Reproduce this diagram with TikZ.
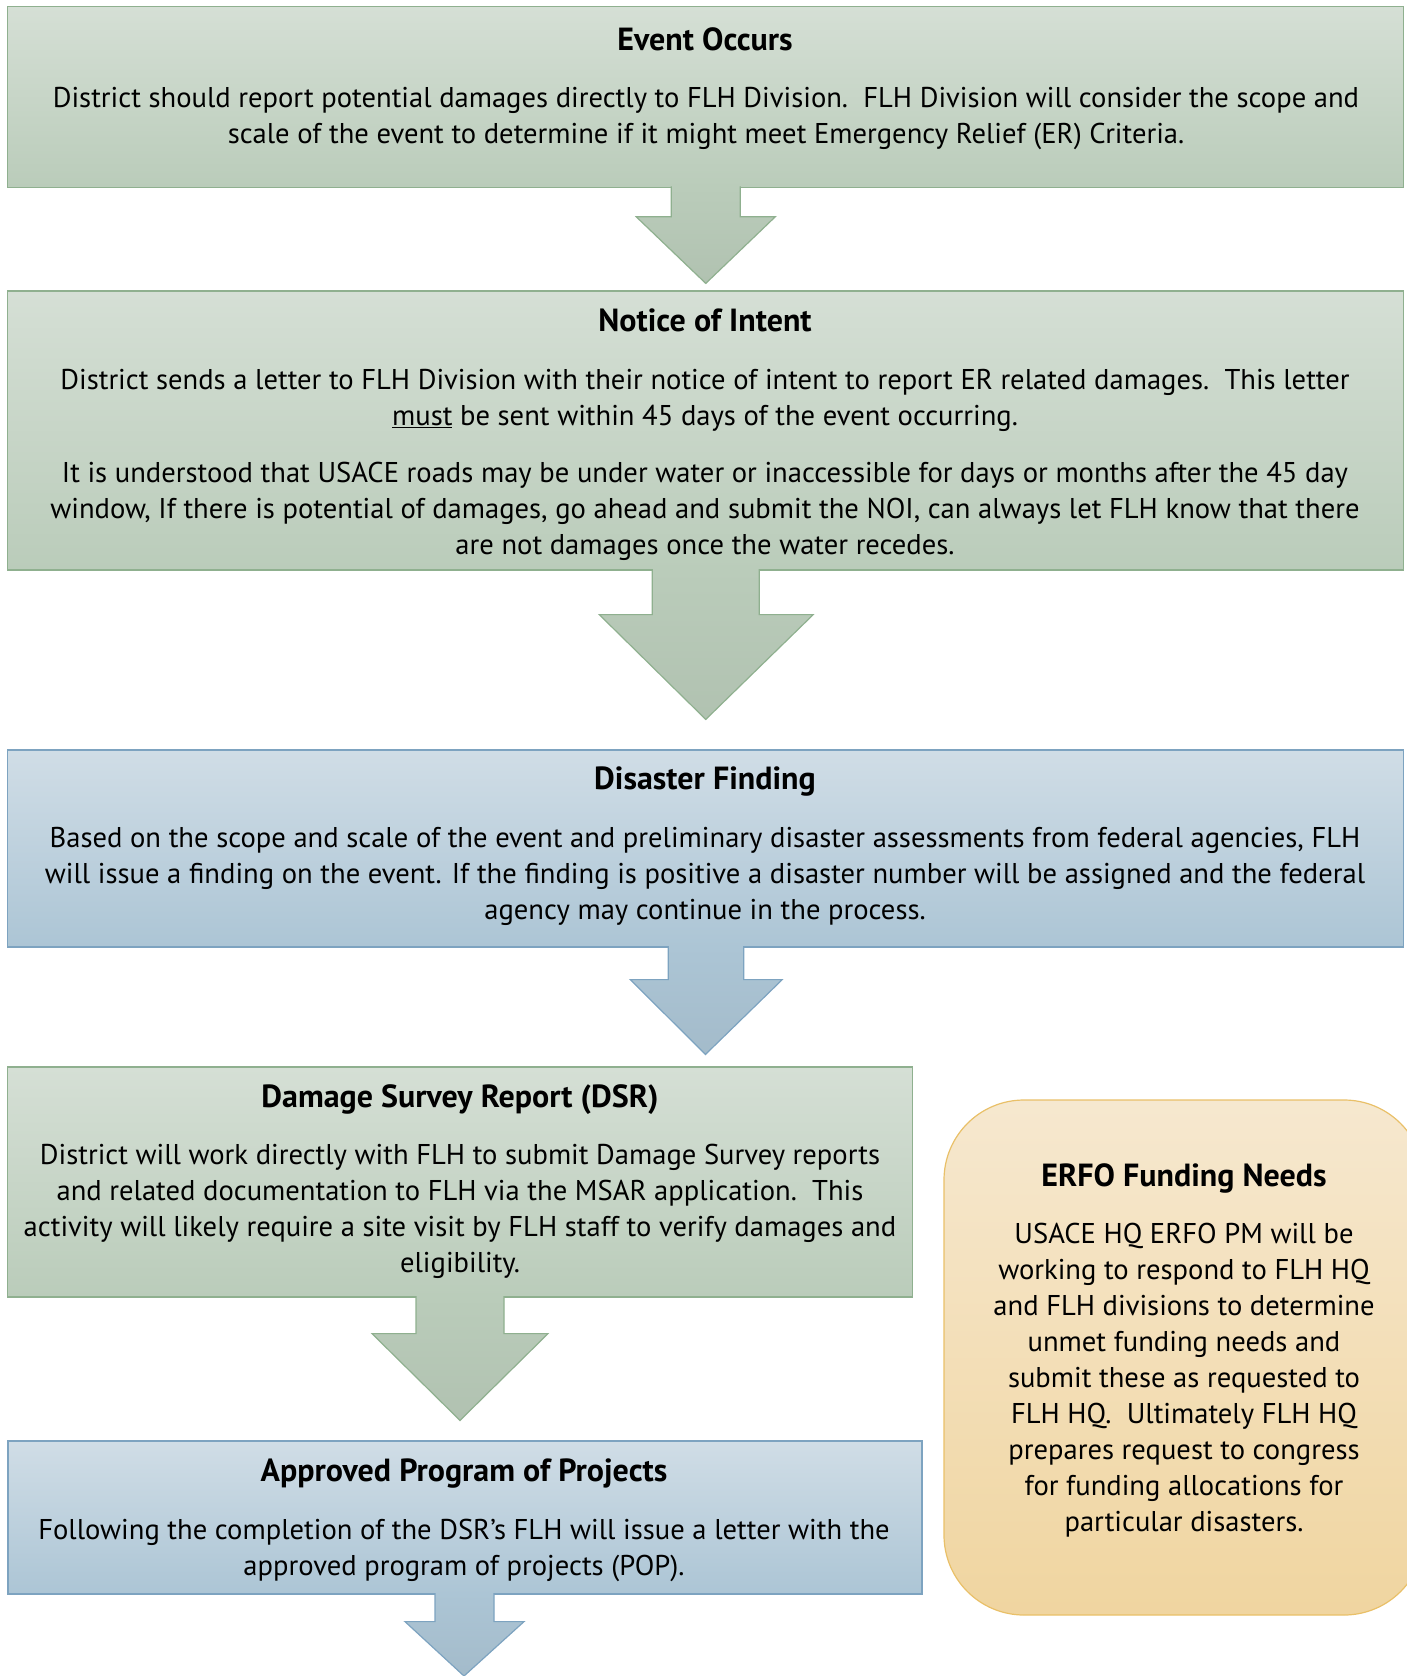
\documentclass[tikz,border=0pt]{standalone}
\usepackage{fontspec}
\setmainfont{PT Sans}
\usetikzlibrary{calc}
\definecolor{gtop}{RGB}{213,223,213}
\definecolor{gbot}{RGB}{186,204,186}
\definecolor{gline}{RGB}{143,176,143}
\definecolor{btop}{RGB}{208,221,230}
\definecolor{bbot}{RGB}{172,197,213}
\definecolor{bline}{RGB}{125,163,192}
\definecolor{otop}{RGB}{246,232,207}
\definecolor{obot}{RGB}{240,213,160}
\definecolor{oline}{RGB}{233,192,104}
\tikzset{
  gbox/.style={draw=gline, line width=1.2pt, top color=gtop, bottom color=gbot, inner sep=0pt},
  bbox/.style={draw=bline, line width=1.2pt, top color=btop, bottom color=bbot, inner sep=0pt},
  obox/.style={draw=oline, line width=1.2pt, top color=otop, bottom color=obot, rounded corners=80pt, inner sep=0pt},
  garrow/.style={draw=gline, line width=1.2pt, top color=gbot, bottom color=gbot!95!black},
  barrow/.style={draw=bline, line width=1.2pt, top color=bbot, bottom color=bbot!95!black},
  ttl/.style={font=\fontsize{32}{38}\selectfont\bfseries, inner sep=0pt},
  txt/.style={font=\fontsize{28.6}{36}\selectfont, align=center, inner sep=0pt}
}
\begin{document}
\begin{tikzpicture}[x=1pt, y=-1pt]
\useasboundingbox (0,0) rectangle (1406,1676);

% boxes
\node[gbox, minimum width=1396pt, minimum height=181pt] (event) at (705.75,96.7) {};
\node[gbox, minimum width=1396pt, minimum height=279pt] (notice) at (705.75,430.5) {};
\node[bbox, minimum width=1396pt, minimum height=197pt] (disaster) at (705.75,848.5) {};
\node[gbox, minimum width=905pt, minimum height=230pt] (damage) at (460,1182) {};
\node[bbox, minimum width=914pt, minimum height=153pt] (program) at (465,1517.5) {};
\node[obox, minimum width=480pt, minimum height=515pt] (erfo) at (1184,1357.5) {};

% texts
\node[ttl] (eventT) at (705,39) {Event Occurs};
\node[txt] (eventB) at (706,118.5) {District should report potential damages directly to FLH Division.\ \ FLH Division will consider the scope and\\
scale of the event to determine if it might meet Emergency Relief (ER) Criteria.};

\node[ttl] (noticeT) at (705,320) {Notice of Intent};
\node[txt] (noticeB1) at (705,400) {District sends a letter to FLH Division with their notice of intent to report ER related damages.\ \ This letter\\
\underline{must} be sent within 45 days of the event occurring.};
\node[txt] (noticeB2) at (705,511.5) {It is understood that USACE roads may be under water or inaccessible for days or months after the 45 day\\
window, If there is potential of damages, go ahead and submit the NOI, can always let FLH know that there\\
are not damages once the water recedes.};

\node[ttl] (disasterT) at (705,782) {Disaster Finding};
\node[txt] (disasterB) at (705,876) {Based on the scope and scale of the event and preliminary disaster assessments from federal agencies, FLH\\
will issue a finding on the event. If the finding is positive a disaster number will be assigned and the federal\\
agency may continue in the process.};

\node[ttl] (damageT) at (460,1100) {Damage Survey Report (DSR)};
\node[txt] (damageB) at (460,1211) {District will work directly with FLH to submit Damage Survey reports\\
and related documentation to FLH via the MSAR application.\ \ This\\
activity will likely require a site visit by FLH staff to verify damages and\\
eligibility.};

\node[ttl] (programT) at (464,1473.5) {Approved Program of Projects};
\node[txt] (programB) at (464,1550) {Following the completion of the DSR’s FLH will issue a letter with the\\
approved program of projects (POP).};

\node[ttl] (erfoT) at (1184,1178) {ERFO Funding Needs};
\node[txt] (erfoB) at (1184,1380) {USACE HQ ERFO PM will be\\
working to respond to FLH HQ\\
and FLH divisions to determine\\
unmet funding needs and\\
submit these as requested to\\
FLH HQ.\ \ Ultimately FLH HQ\\
prepares request to congress\\
for funding allocations for\\
particular disasters.};

% block arrows
\draw[garrow] ($(event.south)+(-34.5,-1.5)$) -- ++(0,30.5) -- ++(-35,0) -- ($(notice.north)+(0,-7)$)
  -- ($(event.south)+(69.5,29)$) -- ++(-35,0) -- ++(0,-30.5);
\draw[garrow] ($(notice.south)+(-53.5,-1.5)$) -- ++(0,45.5) -- ++(-53,0) -- ($(disaster.north)+(0,-30)$)
  -- ($(notice.south)+(107.5,44)$) -- ++(-54,0) -- ++(0,-45.5);
\draw[barrow] ($(disaster.south)+(-37.5,-1.5)$) -- ++(0,33.5) -- ++(-38,0) -- ($(damage.north)+(245.5,-12)$)
  -- ($(disaster.south)+(76.5,32)$) -- ++(-38.5,0) -- ++(0,-33.5);
\draw[garrow] ($(damage.south)+(-44,-1.5)$) -- ++(0,37.5) -- ++(-44,0) -- ($(program.north)+(-5,-20)$)
  -- ($(damage.south)+(88,36)$) -- ++(-44,0) -- ++(0,-37.5);
\coordinate (end) at (464,1676);
\draw[barrow] ($(program.south)+(-30,-1.5)$) -- ++(0,28.5) -- ++(-30,0) -- (end)
  -- ($(program.south)+(59,27)$) -- ++(-30,0) -- ++(0,-28.5);
\end{tikzpicture}
\end{document}
